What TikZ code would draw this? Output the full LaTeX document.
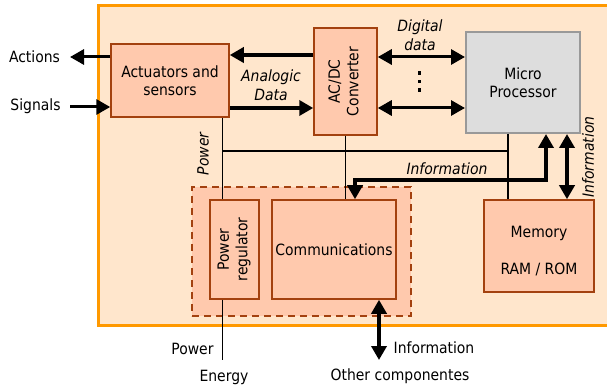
\documentclass[tikz,border=0pt]{standalone}
\usepackage{fontspec}
\setmainfont{DejaVu Sans Condensed}
\usetikzlibrary{arrows.meta}
\definecolor{orng}{HTML}{FF9900}
\definecolor{bgc}{HTML}{FFE6CC}
\definecolor{salm}{HTML}{FFC9AD}
\definecolor{brn}{HTML}{A3410F}
\definecolor{gryf}{HTML}{DDDDDD}
\definecolor{gryd}{HTML}{999999}
\begin{document}
\begin{tikzpicture}[x=1pt,y=-1pt,
  every node/.style={font=\fontsize{15.5}{18.5}\selectfont, inner sep=0pt, align=center},
  blk/.style={draw=brn, fill=salm, line width=1.5pt},
  thinln/.style={line width=1.5pt},
  tip/.tip={Triangle[length=14pt,width=15pt]},
  arrA/.style={line width=3pt, -tip},
  arrB/.style={line width=4pt, -tip},
  arrD/.style={line width=3pt, tip-tip},
  arrE/.style={line width=4pt, tip-tip},
  lab/.style={font=\fontsize{15.5}{18.5}\selectfont\itshape}
]
\useasboundingbox (0,0) rectangle (607,387);
% outer box
\path[draw=orng, fill=bgc, line width=3pt] (98.5,5.5) rectangle (615,325.5);
% dashed group
\node[draw=brn, fill=salm, line width=1.5pt, dash pattern=on 7pt off 5pt,
      minimum width=219pt, minimum height=129pt] (grp) at (301.5,251.5) {};
% blocks
\node[blk, minimum width=118pt, minimum height=73pt] (act) at (170,80.5) {Actuators and\\sensors};
\node[blk, minimum width=63pt, minimum height=107pt] (acdc) at (345.5,81.5) {\rotatebox{90}{\begin{tabular}{@{}c@{}}AC/DC\\Converter\end{tabular}}};
\node[draw=gryd, fill=gryf, line width=2pt, minimum width=114pt, minimum height=101pt] (mp) at (523,82.5) {Micro\\Processor};
\node[blk, minimum width=110pt, minimum height=92pt] (mem) at (539,246) {};
\node (memt) at (539,251) {Memory\\[19pt]RAM / ROM};
\node[blk, minimum width=49pt, minimum height=99pt] (reg) at (234.5,249.5) {\rotatebox{90}{\begin{tabular}{@{}c@{}}Power\\regulator\end{tabular}}};
\node[blk, minimum width=124pt, minimum height=99pt] (comm) at (334,249.5) {Communications};
% coordinates
\coordinate (actT) at (70,57);
\coordinate (sigS) at (70,107);
\coordinate (pwrx) at (222.7,151);
\coordinate (mpx) at (508,151);
\coordinate (pend) at (222.7,360);
\coordinate (infoA) at (355,180);
\coordinate (infoB) at (546,180);
\coordinate (memx) at (567,0);
\coordinate (comx) at (379,0);
\coordinate (iend) at (379,360);
% thin lines
\draw[thinln] (act.south -| pwrx) -- (reg.north -| pwrx);
\draw[thinln] (pwrx) -- (mpx);
\draw[thinln] (mp.south -| mpx) -- (mem.north -| mpx);
\draw[thinln] (acdc.south) -- (acdc.south |- comm.north);
\draw[thinln] (reg.south -| pwrx) -- (pend);
% arrows
\draw[arrA] (act.west |- actT) -- (actT);
\draw[arrA] (sigS) -- (act.west |- sigS);
\draw[arrB] (acdc.west |- 0,55) -- (act.east |- 0,55);
\draw[arrB] (act.east |- 0,108) -- (acdc.west |- 0,108);
\draw[arrD] (acdc.east |- 0,57) -- (mp.west |- 0,57);
\draw[arrD] (acdc.east |- 0,108) -- (mp.west |- 0,108);
\draw[arrE] (comm.north -| infoA) -- (infoA) -- (infoB) -- (mp.south -| infoB);
\draw[arrE] (mp.south -| memx) -- (mem.north -| memx);
\draw[arrE] (comm.south -| comx) -- (iend);
% dots
\foreach \yy in {73,81.5,90} \fill (417.5,\yy-1.75) rectangle (421,\yy+1.75);
% labels
\node (tA) at (34.5,57) {Actions};
\node (tS) at (35.5,106) {Signals};
\node[lab] (tAD) at (271,85) {Analogic\\Data};
\node[lab] (tDD) at (420,35) {Digital\\data};
\node[lab, rotate=90] (tPw) at (203,154) {Power};
\node[lab] (tI1) at (447,169) {Information};
\node[lab, rotate=90] (tI2) at (588,157) {Information};
\node (tP) at (192.5,349) {Power};
\node (tE) at (224,377) {Energy};
\node (tI3) at (434,348) {Information};
\node (tO) at (400,376) {Other componentes};
\end{tikzpicture}
\end{document}
